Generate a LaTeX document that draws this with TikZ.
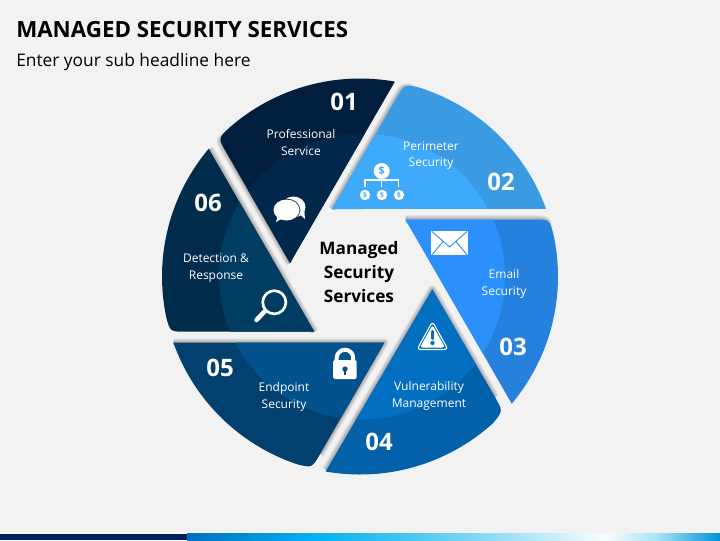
\documentclass[tikz,border=0pt]{standalone}
\usepackage{fontspec}
\setmainfont{Open Sans}
\definecolor{bgc}{HTML}{F2F2F2}
\definecolor{aO}{HTML}{011F3D}\definecolor{aI}{HTML}{01274A}
\definecolor{bO}{HTML}{3A9BE3}\definecolor{bI}{HTML}{3FA9FB}
\definecolor{cO}{HTML}{2680DD}\definecolor{cI}{HTML}{2B90FB}
\definecolor{dO}{HTML}{0261A8}\definecolor{dI}{HTML}{026FC1}
\definecolor{eO}{HTML}{01406F}\definecolor{eI}{HTML}{02528E}
\definecolor{fO}{HTML}{012C4C}\definecolor{fI}{HTML}{013C62}
\definecolor{barA}{HTML}{00205F}\definecolor{barB}{HTML}{0070C0}
\definecolor{barC}{HTML}{00B0F0}\definecolor{barD}{HTML}{40C4F0}
\definecolor{barE}{HTML}{A0E0F5}\definecolor{barF}{HTML}{FAFDFE}
\definecolor{barG}{HTML}{0090D8}
\tikzset{
  lbl/.style={text=white,font=\fontsize{9}{12.4}\selectfont,align=center,inner sep=0pt},
  num/.style={text=white,font=\bfseries\fontsize{18}{20}\selectfont,inner sep=0pt},
  shline/.style={line join=round,line cap=butt,draw=black,draw opacity=0.06},
  icon/.style={fill=white,draw=none}
}
\newcommand{\segdraw}[3]{%
  \fill[#2] #1;
  \begin{scope}\clip #1; \fill[#3] (362,276.5) circle[radius=107.25pt];\end{scope}}
\newcommand{\shadowof}[1]{%
  \draw[shline,line width=6.5pt] #1;
  \draw[shline,line width=5pt] #1;
  \draw[shline,line width=3.8pt] #1;
  \draw[shline,line width=2.6pt] #1;
  \draw[shline,line width=1.4pt] #1;}
\def\segA{(290,263) -- (226,151.9) .. controls (218,138) .. ([shift={(360,276.5)}]131:148.5pt) arc[start angle=131,end angle=79.85,radius=148.5pt] -- cycle}
\def\segB{(332,209) -- (396.5,97.9) .. controls (404.5,84) .. ([shift={(360,276.5)}]72.5:148.5pt) arc[start angle=72.5,end angle=19.95,radius=148.5pt] -- cycle}
\def\segC{(405.5,219.5) -- (533.6,219.5) .. controls (549.6,219.5) .. ([shift={(360,276.5)}]12.2:148.5pt) arc[start angle=12.2,end angle=-39.96,radius=148.5pt] -- cycle}
\def\segD{(432.3,289.3) -- (495,397.1) .. controls (503,411) .. ([shift={(360,276.5)}]-47.7:148.5pt) arc[start angle=-47.7,end angle=-100,radius=148.5pt] -- cycle}
\def\segE{(384.3,342.7) -- (320,454.1) .. controls (312,468) .. ([shift={(360,276.5)}]-108.6:148.5pt) arc[start angle=-108.6,end angle=-160.5,radius=148.5pt] -- cycle}
\def\segF{(314.3,331.7) -- (186,331.7) .. controls (170,331.7) .. ([shift={(360,276.5)}]191.7:148.5pt) arc[start angle=191.7,end angle=139.8,radius=148.5pt] -- cycle}
\begin{document}
\begin{tikzpicture}[x=0.75pt,y=-0.75pt]
\useasboundingbox (0,0) rectangle (720,540);
\fill[bgc] (0,0) rectangle (720,540);
% bottom band
\fill[white!70!bgc] (0,532) rectangle (390,534);
\fill[barA] (0,533.5) rectangle (187.5,540);
\shade[left color=barB,right color=barC] (187,533.5) rectangle (310,540);
\shade[left color=barC,right color=barD] (310,533.5) rectangle (400,540);
\shade[left color=barD,right color=barE] (400,533.5) rectangle (510,540);
\shade[left color=barE,right color=barF] (510,533.5) rectangle (605,540);
\shade[left color=barF,right color=barE] (605,533.5) rectangle (660,540);
\shade[left color=barE,right color=barG] (660,533.5) rectangle (720,540);
% titles
\node[anchor=base west,inner sep=0pt,font=\bfseries\fontsize{16.75}{20}\selectfont] (title) at (16,37) {MANAGED SECURITY SERVICES};
\node[anchor=base west,inner sep=0pt,font=\fontsize{13}{16}\selectfont] (sub) at (16,66) {Enter your sub headline here};
% shadows along the straight edges
\shadowof{(290,263) -- (226,151.9) .. controls (218,138) .. (236,137)}
\shadowof{(332,209) -- (396.5,97.9) .. controls (404.5,84) .. (425,96)}
\shadowof{(405.5,219.5) -- (533.6,219.5) .. controls (549.6,219.5) .. (546,240)}
\shadowof{(326,470) -- (432.3,289.3) -- (495,397.1)}
\shadowof{(173.3,342.7) -- (384.3,342.7) -- (320,454.1)}
\shadowof{(209.3,149) -- (314.3,331.7)}
% segments
\segdraw{\segF}{fO}{fI}
\segdraw{\segE}{eO}{eI}
\segdraw{\segD}{dO}{dI}
\segdraw{\segC}{cO}{cI}
\segdraw{\segB}{bO}{bI}
\segdraw{\segA}{aO}{aI}
% centre
\node[align=center,inner sep=0pt,font=\bfseries\fontsize{12.9}{18}\selectfont] (centre) at (359,272) {Managed\\Security\\Services};
% numbers
\node[num] (n1) at (344,102) {01};
\node[num] (n2) at (501,182) {02};
\node[num] (n3) at (513,347) {03};
\node[num] (n4) at (379,442) {04};
\node[num] (n5) at (220,368) {05};
\node[num] (n6) at (208,203) {06};
% labels
\node[lbl] (l1) at (301,142.5) {Professional\\Service};
\node[lbl] (l2) at (431,155.5) {Perimeter\\Security};
\node[lbl] (l3) at (504,284) {Email\\Security};
\node[lbl] (l4) at (429,396) {Vulnerability\\Management};
\node[lbl] (l5) at (284,397) {Endpoint\\Security};
\node[lbl] (l6) at (216,268) {Detection \&\\Response};
% chat icon
\fill[icon] (293.5,207) ellipse[x radius=12,y radius=10.5];
\fill[icon] (298,213) -- (305,219) -- (304,207) -- cycle;
\draw[aI,line width=1.2pt,fill=white] (286.5,210) ellipse[x radius=13,y radius=10.5];
\fill[aI] (280,218) -- (274,224.5) -- (275,216) -- cycle;
\fill[icon] (283,218) -- (276,222) -- (278,214) -- cycle;
\fill[icon] (286.5,210) ellipse[x radius=13,y radius=10.5];
% perimeter icon
\draw[white,line width=1.1pt] (381.7,176) -- (381.7,187) (365,187) -- (365,180) -- (398.7,180) -- (398.7,187);
\fill[icon] (381.7,171) circle[radius=6pt];
\fill[icon] (365,195) circle[radius=3.9pt] (382,195) circle[radius=3.9pt] (399,195) circle[radius=3.9pt];
\node[inner sep=0pt,text=bI,font=\bfseries\fontsize{8}{8}\selectfont] (d0) at (381.7,171) {\$};
\node[inner sep=0pt,text=bI,font=\bfseries\fontsize{5}{5}\selectfont] (d1) at (365,195) {\$};
\node[inner sep=0pt,text=bI,font=\bfseries\fontsize{5}{5}\selectfont] (d2) at (382,195) {\$};
\node[inner sep=0pt,text=bI,font=\bfseries\fontsize{5}{5}\selectfont] (d3) at (399,195) {\$};
% envelope
\fill[icon] (431,231.3) rectangle (468,255.3);
\draw[cI,line width=0.7pt] (432,231.5) -- (449.5,247) -- (467,231.5) (432,254.8) -- (443,241.5) (467,254.8) -- (456,241.5);
% warning
\draw[white,line width=0.8pt,line join=round,rounded corners=2.5pt] (432.5,321.5) -- (448,349.5) -- (417,349.5) -- cycle;
\fill[icon,rounded corners=2pt] (432.5,325) -- (445,347.5) -- (420,347.5) -- cycle;
\draw[dI,line width=2.6pt,line cap=round] (432.5,331.5) -- (432.5,338.5);
\fill[dI] (432.5,343) circle[radius=1.6pt];
% lock
\draw[white,line width=3pt] (336.7,362) -- (336.7,358) arc[start angle=180,end angle=0,radius=6.2pt] -- (353.2,362);
\fill[icon,rounded corners=1.2pt] (333,360) rectangle (356.7,379);
\fill[eI] (345,369) circle[radius=2pt];
\fill[eI] (344,369) rectangle (346,375);
% magnifier
\draw[white,line width=2pt] (274.3,302.3) circle[radius=8.7pt];
\draw[white,line width=3.4pt,line cap=round] (265,311) -- (256.5,320);
\end{tikzpicture}
\end{document}
